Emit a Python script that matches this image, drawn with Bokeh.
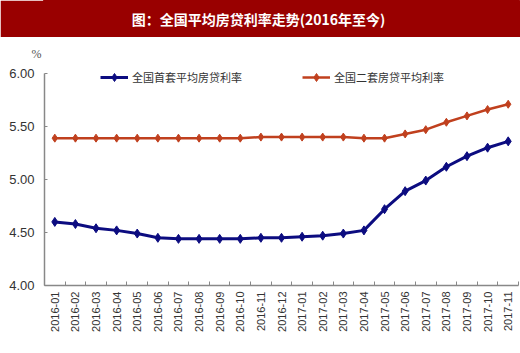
import numpy as np
from bokeh.plotting import figure
from bokeh.layouts import column
from bokeh.models import FixedTicker, NumeralTickFormatter, Legend, LegendItem, Range1d, Title
from bokeh.core.properties import value
from bokeh.embed import file_html
from bokeh.resources import INLINE

title_text = "图：全国平均房贷利率走势(2016年至今)"
unit_text = "%"
months = ["2016-01", "2016-02", "2016-03", "2016-04", "2016-05", "2016-06",
          "2016-07", "2016-08", "2016-09", "2016-10", "2016-11", "2016-12",
          "2017-01", "2017-02", "2017-03", "2017-04", "2017-05", "2017-06",
          "2017-07", "2017-08", "2017-09", "2017-10", "2017-11"]
first_home = [4.60, 4.58, 4.54, 4.52, 4.49, 4.45, 4.44, 4.44, 4.44, 4.44, 4.45, 4.45,
              4.46, 4.47, 4.49, 4.52, 4.72, 4.89, 4.99, 5.12, 5.22, 5.30, 5.36]
second_home = [5.39, 5.39, 5.39, 5.39, 5.39, 5.39, 5.39, 5.39, 5.39, 5.39, 5.40, 5.40,
               5.40, 5.40, 5.40, 5.39, 5.39, 5.43, 5.47, 5.54, 5.60, 5.66, 5.71]
series_names = ["全国首套平均房贷利率", "全国二套房贷平均利率"]
y_ticks = [4.0, 4.5, 5.0, 5.5, 6.0]

BLUE = "#0c0c80"
RED = "#c0401e"
BAR = "#990000"
CJK = "Noto Sans CJK SC"

# ---- header (title bar) ----
head = figure(width=520, height=37, output_backend="svg", toolbar_location=None,
              x_range=Range1d(44, 518), y_range=Range1d(0, 37),
              x_axis_location=None, y_axis_location=None,
              min_border=0, min_border_left=44, min_border_right=2,
              min_border_top=0, min_border_bottom=0,
              background_fill_color=BAR, border_fill_color=BAR)
head.grid.visible = False
head.outline_line_color = BAR
head.outline_line_width = 3
head.text(x=[258], y=[18.5], text=[title_text], text_color="white",
          text_font=value(CJK), text_font_size="14px", text_font_style="bold",
          text_align="center", text_baseline="middle")

# ---- main chart ----
n = len(months)
xs = np.arange(n) + 0.5
p = figure(width=520, height=316, output_backend="svg", toolbar_location=None,
           x_range=Range1d(0, n), y_range=Range1d(4.0, 4.0 + 225 / 106),
           min_border_left=44, min_border_right=2, min_border_top=23,
           min_border_bottom=68)
p.grid.visible = False
p.outline_line_color = None

unit = Title(text=unit_text, align="left", offset=-13, standoff=0,
             text_font="Liberation Serif", text_font_size="12px",
             text_font_style="normal", text_color="#555555")
p.add_layout(unit, "above")

r1l = p.line(xs, first_home, line_color=BLUE, line_width=3)
r1m = p.scatter(xs, first_home, marker="diamond", size=9, fill_color=BLUE, line_color=BLUE)
r2l = p.line(xs, second_home, line_color=RED, line_width=2.5)
r2m = p.scatter(xs, second_home, marker="diamond", size=8, fill_color=RED, line_color=RED)

# x axis
p.xaxis.ticker = FixedTicker(ticks=list(xs), minor_ticks=list(range(n + 1)))
p.xaxis.major_label_overrides = {float(x): m for x, m in zip(xs, months)}
p.xaxis.major_label_orientation = np.pi / 2
p.xaxis.major_tick_in = 0
p.xaxis.major_tick_out = 0
p.xaxis.minor_tick_in = 4
p.xaxis.minor_tick_out = 0
p.xaxis.minor_tick_line_color = "#888888"
p.xaxis.axis_line_color = "#888888"
p.xaxis.axis_line_width = 1.5
p.xaxis.major_label_text_font = "Liberation Sans"
p.xaxis.major_label_text_font_size = "11px"
p.xaxis.major_label_text_color = "#333333"
p.xaxis.major_label_standoff = 6

# y axis
p.yaxis.ticker = FixedTicker(ticks=y_ticks)
p.yaxis.formatter = NumeralTickFormatter(format="0.00")
p.yaxis.bounds = (4.0, 6.0)
p.yaxis.major_tick_in = 3
p.yaxis.major_tick_out = 0
p.yaxis.minor_tick_line_color = None
p.yaxis.axis_line_color = "#888888"
p.yaxis.axis_line_width = 1.5
p.yaxis.major_tick_line_color = "#888888"
p.yaxis.major_label_text_font = "Liberation Sans"
p.yaxis.major_label_text_font_size = "13px"
p.yaxis.major_label_text_color = "#333333"
p.yaxis.major_label_standoff = 10

legend = Legend(items=[LegendItem(label=series_names[0], renderers=[r1l, r1m]),
                       LegendItem(label=series_names[1], renderers=[r2l, r2m])],
                orientation="horizontal", location=(56, 198),
                background_fill_alpha=0, border_line_color=None,
                padding=0, margin=0, spacing=60, glyph_width=28,
                label_text_font=CJK, label_text_font_size="11px",
                label_text_color="#333333", label_standoff=4)
p.add_layout(legend, "center")

layout = column(head, p, spacing=0)
open("out.html", "w").write(file_html(layout, INLINE))
